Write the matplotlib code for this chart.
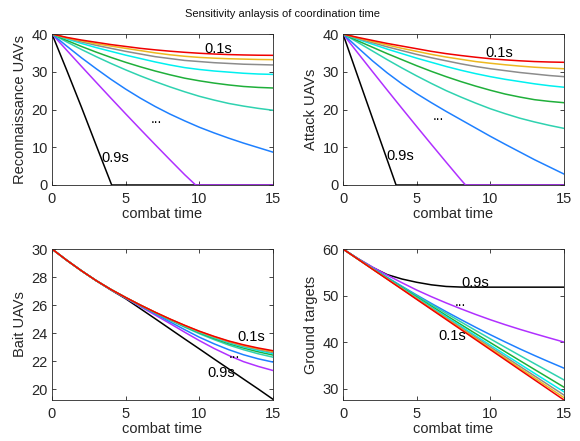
import matplotlib
matplotlib.use("Agg")
import matplotlib.pyplot as plt

plt.rcParams['font.family'] = ['Liberation Sans', 'DejaVu Sans']

T = list(range(16))
labels = ['0.1s', '0.2s', '0.3s', '0.4s', '0.5s', '0.6s', '0.7s', '0.8s', '0.9s']
colors = ['#F00000', '#EDB820', '#8C8C8C', '#00F0F0', '#1FAF3A',
          '#2FD2B0', '#1E80FF', '#B030FF', '#000000']

# Reconnaissance UAVs (0.1s .. 0.7s on T)
recon = [
    [40, 39.1, 38.4, 37.8, 37.2, 36.7, 36.2, 35.8, 35.45, 35.15, 34.9, 34.7, 34.55, 34.45, 34.38, 34.35],
    [40, 39.0, 38.2, 37.4, 36.8, 36.2, 35.6, 35.0, 34.5, 34.1, 33.8, 33.6, 33.45, 33.35, 33.25, 33.2],
    [40, 38.9, 37.9, 37.0, 36.2, 35.4, 34.7, 34.0, 33.5, 33.0, 32.7, 32.4, 32.2, 32.0, 31.9, 31.8],
    [40, 38.7, 37.5, 36.4, 35.4, 34.4, 33.5, 32.6, 31.8, 31.1, 30.6, 30.2, 29.9, 29.6, 29.4, 29.3],
    [40, 38.3, 36.7, 35.2, 33.8, 32.5, 31.3, 30.2, 29.2, 28.3, 27.6, 27.0, 26.5, 26.1, 25.85, 25.7],
    [40, 37.9, 35.9, 34.0, 32.2, 30.5, 28.9, 27.4, 26.0, 24.7, 23.5, 22.5, 21.6, 20.9, 20.3, 19.8],
    [40, 36.8, 33.7, 30.8, 28.0, 25.4, 23.0, 20.8, 18.8, 17.0, 15.3, 13.8, 12.4, 11.1, 9.9, 8.7],
]
recon_t08 = [0, 1, 2, 3, 4, 5, 6, 7, 8, 9, 9.75, 15]
recon_08 = [40, 35.7, 31.43, 27.2, 23.0, 18.85, 14.75, 10.7, 6.7, 2.75, 0, 0]
recon_t09 = [0, 1, 2, 3, 4.05, 15]
recon_09 = [40, 30.4, 20.6, 10.5, 0, 0]

# Attack UAVs
attack = [
    [40, 39.1, 38.3, 37.5, 36.8, 36.1, 35.4, 34.8, 34.3, 33.85, 33.45, 33.15, 32.9, 32.7, 32.58, 32.5],
    [40, 39.0, 38.0, 37.1, 36.2, 35.4, 34.6, 33.9, 33.3, 32.7, 32.25, 31.85, 31.5, 31.2, 30.98, 30.8],
    [40, 38.8, 37.7, 36.6, 35.6, 34.6, 33.7, 32.9, 32.1, 31.4, 30.8, 30.3, 29.8, 29.4, 29.0, 28.7],
    [40, 38.6, 37.3, 36.0, 34.8, 33.6, 32.5, 31.4, 30.4, 29.5, 28.7, 28.0, 27.4, 26.8, 26.3, 25.9],
    [40, 38.2, 36.5, 34.8, 33.2, 31.6, 30.1, 28.7, 27.4, 26.2, 25.1, 24.1, 23.3, 22.6, 22.15, 21.8],
    [40, 37.8, 35.5, 33.2, 31.0, 28.9, 26.9, 25.0, 23.3, 21.7, 20.2, 18.9, 17.7, 16.7, 15.8, 15.0],
    [40, 36.4, 32.9, 29.7, 26.8, 24.2, 21.8, 19.5, 17.3, 15.1, 12.9, 10.8, 8.75, 6.7, 4.8, 2.9],
]
attack_t08 = [0, 1, 2, 3, 4, 5, 6, 7, 8, 8.32, 15]
attack_08 = [40, 35.0, 30.05, 25.15, 20.3, 15.5, 10.75, 6.05, 1.4, 0, 0]
attack_t09 = [0, 1, 2, 3, 3.6, 15]
attack_09 = [40, 28.8, 17.7, 6.65, 0, 0]

# Bait UAVs (0.1s .. 0.9s on T)
bait = [
    [30, 29.2, 28.45, 27.75, 27.12, 26.55, 26.01, 25.50, 25.02, 24.57, 24.15, 23.78, 23.45, 23.18, 22.95, 22.76],
    [30, 29.2, 28.45, 27.75, 27.12, 26.55, 26.01, 25.50, 25.01, 24.56, 24.13, 23.76, 23.42, 23.14, 22.90, 22.70],
    [30, 29.2, 28.45, 27.75, 27.12, 26.55, 26.00, 25.49, 25.00, 24.54, 24.11, 23.73, 23.38, 23.09, 22.85, 22.63],
    [30, 29.2, 28.45, 27.75, 27.12, 26.55, 26.00, 25.48, 24.99, 24.52, 24.08, 23.69, 23.33, 23.03, 22.78, 22.55],
    [30, 29.2, 28.45, 27.75, 27.12, 26.54, 25.99, 25.47, 24.97, 24.49, 24.04, 23.63, 23.26, 22.95, 22.68, 22.45],
    [30, 29.2, 28.45, 27.75, 27.12, 26.54, 25.98, 25.45, 24.94, 24.44, 23.97, 23.55, 23.16, 22.83, 22.54, 22.30],
    [30, 29.2, 28.45, 27.75, 27.11, 26.52, 25.95, 25.39, 24.82, 24.26, 23.72, 23.25, 22.83, 22.47, 22.18, 21.95],
    [30, 29.2, 28.45, 27.75, 27.10, 26.50, 25.90, 25.30, 24.70, 24.08, 23.48, 22.92, 22.42, 21.98, 21.64, 21.35],
    [30, 29.2, 28.45, 27.74, 27.08, 26.46, 25.75, 25.04, 24.32, 23.60, 22.89, 22.17, 21.46, 20.74, 20.03, 19.30],
]

# Ground targets
ground = [
    [60, 57.84, 55.67, 53.51, 51.35, 49.18, 47.02, 44.86, 42.70, 40.53, 38.37, 36.21, 34.04, 31.88, 29.72, 27.55],
    [60, 57.85, 55.69, 53.55, 51.41, 49.27, 47.14, 45.01, 42.89, 40.76, 38.64, 36.52, 34.39, 32.28, 30.17, 28.05],
    [60, 57.85, 55.71, 53.59, 51.48, 49.37, 47.27, 45.18, 43.10, 41.01, 38.94, 36.87, 34.79, 32.73, 30.67, 28.60],
    [60, 57.86, 55.74, 53.65, 51.58, 49.51, 47.46, 45.42, 43.39, 41.35, 39.33, 37.31, 35.29, 33.28, 31.29, 29.30],
    [60, 57.87, 55.77, 53.72, 51.70, 49.69, 47.71, 45.74, 43.78, 41.82, 39.88, 37.95, 36.02, 34.11, 32.21, 30.30],
    [60, 57.88, 55.82, 53.83, 51.88, 49.95, 48.06, 46.19, 44.34, 42.50, 40.69, 38.90, 37.12, 35.36, 33.61, 31.86],
    [60, 57.92, 55.88, 53.91, 51.99, 50.11, 48.30, 46.54, 44.84, 43.18, 41.58, 40.04, 38.54, 37.11, 35.73, 34.39],
    [60, 57.99, 56.12, 54.38, 52.75, 51.18, 49.75, 48.41, 47.15, 45.94, 44.80, 43.74, 42.74, 41.80, 40.89, 40.00],
    [60, 57.95, 56.05, 54.50, 53.55, 52.85, 52.30, 51.95, 51.82, 51.80, 51.80, 51.80, 51.80, 51.80, 51.80, 51.80],
]

fig = plt.figure(figsize=(5.8, 4.41), dpi=100)
W, H = 580, 441
def ax_at(x0, x1, y0, y1):
    return fig.add_axes([x0 / W, 1 - y1 / H, (x1 - x0) / W, (y1 - y0) / H])

axes = [ax_at(52, 273, 34, 185), ax_at(343, 564, 34, 185),
        ax_at(52, 273, 249, 400), ax_at(343, 564, 249, 400)]

LW = 1.1
edge = '#262626'

def style(ax, ylabel, ylim, yticks):
    ax.set_xlim(0, 15)
    ax.set_ylim(*ylim)
    ax.set_xticks([0, 5, 10, 15])
    ax.set_yticks(yticks)
    ax.set_xlabel('combat time', fontsize=10.5, color=edge, labelpad=1)
    ax.set_ylabel(ylabel, fontsize=10.5, color=edge, labelpad=3)
    ax.tick_params(direction='in', top=True, right=True, length=3,
                   labelsize=10.5, colors=edge, width=0.6, pad=3)
    ax.tick_params(axis='x', pad=5)
    for s in ax.spines.values():
        s.set_color(edge)
        s.set_linewidth(0.6)

# Top-left
ax = axes[0]
ax.plot(recon_t09, recon_09, color=colors[8], lw=LW)
ax.plot(recon_t08, recon_08, color=colors[7], lw=LW)
for i in range(6, -1, -1):
    ax.plot(T, recon[i], color=colors[i], lw=LW)
style(ax, 'Reconnaissance UAVs', (0, 40), [0, 10, 20, 30, 40])
ax.text(11.3, 36.0, '0.1s', fontsize=10.5, ha='center', va='center')
ax.text(7.1, 17.6, '...', fontsize=10, ha='center', va='center')
ax.text(4.3, 7.2, '0.9s', fontsize=10.5, ha='center', va='center')

# Top-right
ax = axes[1]
ax.plot(attack_t09, attack_09, color=colors[8], lw=LW)
ax.plot(attack_t08, attack_08, color=colors[7], lw=LW)
for i in range(6, -1, -1):
    ax.plot(T, attack[i], color=colors[i], lw=LW)
style(ax, 'Attack UAVs', (0, 40), [0, 10, 20, 30, 40])
ax.text(10.6, 34.9, '0.1s', fontsize=10.5, ha='center', va='center')
ax.text(6.5, 18.2, '...', fontsize=10, ha='center', va='center')
ax.text(3.9, 7.7, '0.9s', fontsize=10.5, ha='center', va='center')

# Bottom-left
ax = axes[2]
for i in range(8, -1, -1):
    ax.plot(T, bait[i], color=colors[i], lw=LW)
style(ax, 'Bait UAVs', (19.25, 30), [20, 22, 24, 26, 28, 30])
ax.text(13.55, 23.75, '0.1s', fontsize=10.5, ha='center', va='center')
ax.text(12.4, 22.5, '...', fontsize=10, ha='center', va='center')
ax.text(11.5, 21.2, '0.9s', fontsize=10.5, ha='center', va='center')

# Bottom-right
ax = axes[3]
for i in range(8, -1, -1):
    ax.plot(T, ground[i], color=colors[i], lw=LW)
style(ax, 'Ground targets', (27.55, 60), [30, 40, 50, 60])
ax.text(8.95, 52.8, '0.9s', fontsize=10.5, ha='center', va='center')
ax.text(8.0, 48.6, '...', fontsize=10, ha='center', va='center')
ax.text(7.4, 41.3, '0.1s', fontsize=10.5, ha='center', va='center')

fig.text(0.487, 0.968, 'Sensitivity anlaysis of coordination time',
         fontsize=8, ha='center', va='center', color='#111111')

fig.savefig('out.png', dpi=100)
